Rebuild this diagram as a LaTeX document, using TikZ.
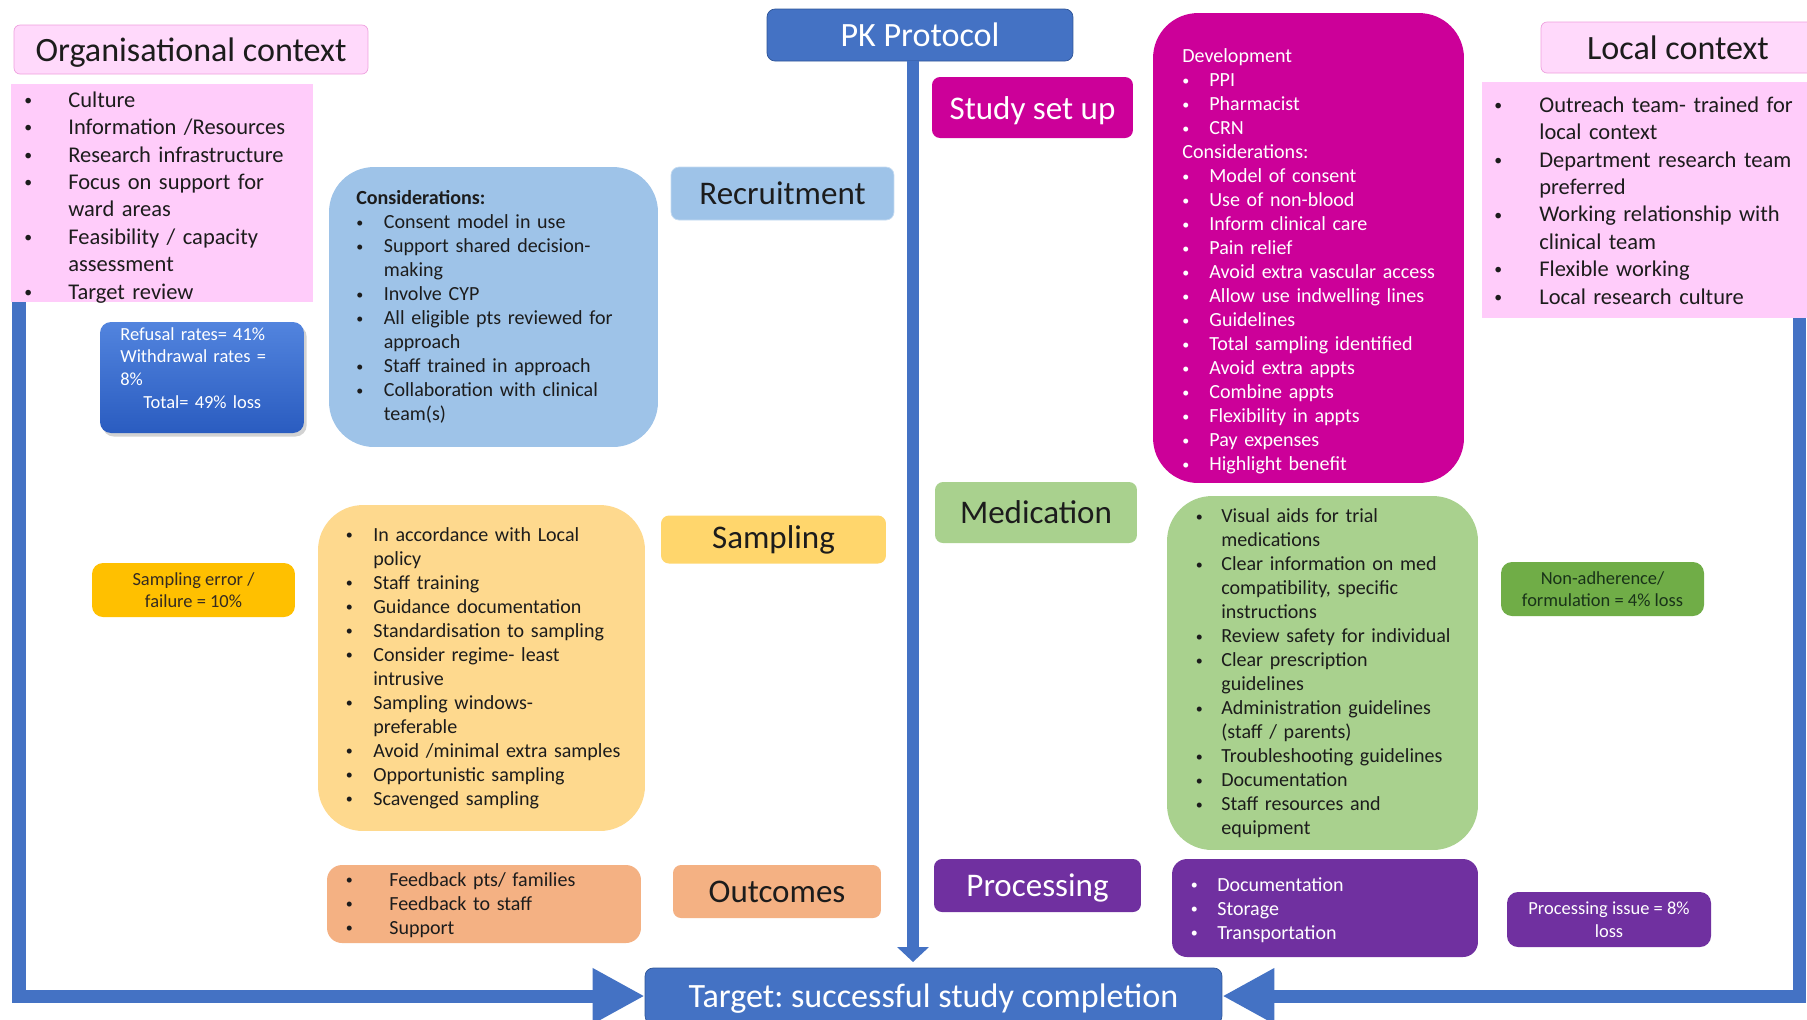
\documentclass[tikz,border=0pt]{standalone}
\usepackage{fontspec}
\setmainfont{Carlito}
\usetikzlibrary{arrows.meta,positioning,shadows}
\definecolor{pkBlue}{RGB}{68,114,196}
\definecolor{pkBorder}{RGB}{47,85,151}
\definecolor{ctxPink}{RGB}{255,204,250}
\definecolor{ctxBorder}{RGB}{238,160,222}
\definecolor{setupMagenta}{RGB}{204,0,153}
\definecolor{recBlue}{RGB}{158,195,232}
\definecolor{lossTop}{RGB}{82,132,222}
\definecolor{lossBottom}{RGB}{42,92,192}
\definecolor{sampLabel}{RGB}{255,214,108}
\definecolor{sampList}{RGB}{254,217,142}
\definecolor{sampGold}{RGB}{255,192,0}
\definecolor{outSalmon}{RGB}{244,177,131}
\definecolor{medGreen}{RGB}{169,209,142}
\definecolor{lossGreen}{RGB}{112,173,71}
\definecolor{procPurple}{RGB}{112,48,160}
\definecolor{inkDark}{RGB}{28,28,28}

\frenchspacing
\newlength{\pxu}\setlength{\pxu}{0.02cm}
\newlength{\bulind}
\newcommand{\fTitle}{\fontsize{19.4pt}{23pt}\selectfont}
\newcommand{\fLabel}{\fontsize{18.8pt}{22pt}\selectfont}
\newcommand{\fCtx}{\fontsize{12.8pt}{15.6pt}\selectfont}
\newcommand{\fList}{\fontsize{11.4pt}{13.66pt}\selectfont}
\newcommand{\fLoss}{\fontsize{10.5pt}{12.9pt}\selectfont}
\newcommand{\nl}{\hfil\break}
\newcommand{\smallbullet}{\raisebox{0.08em}{\scalebox{0.7}{\textbullet}}}
\newcommand{\itm}[1]{\par\hangindent=\bulind\hangafter=1\noindent\strut\makebox[\bulind][l]{\smallbullet}#1}
\newcommand{\plainline}[1]{\par\noindent\strut#1}
\newcommand{\lowered}[2]{\raisebox{-#1}[0.7em][0.2em]{#2}}

\begin{document}
\begin{tikzpicture}[x=0.02cm, y=-0.02cm,
    titlebox/.style={draw=ctxBorder, fill=ctxPink!75!white, rounded corners=0.12cm, inner sep=0pt, font=\fTitle, text=inkDark},
    ctxbox/.style={fill=ctxPink, inner sep=0pt},
    bluebox/.style={draw=pkBorder, fill=pkBlue, rounded corners=0.16cm, inner sep=0pt, font=\fTitle, text=white},
    labelbox/.style={rounded corners=0.16cm, inner sep=0pt, font=\fLabel, text=inkDark},
    listbox/.style={rounded corners=0.9cm, inner sep=0pt},
    lossbox/.style={rounded corners=0.22cm, inner sep=0pt, font=\fLoss, align=center},
    listtext/.style={anchor=north west, inner sep=0pt, text width=7cm, font=\fList, text=inkDark,
      execute at begin node={\raggedright\setlength{\bulind}{#1\pxu}\setlength{\parskip}{0pt}}},
    loopline/.style={line width=7.4pt, draw=pkBlue, -{Triangle[length=29.6pt,width=29.6pt]}},
    pkline/.style={line width=6.8pt, draw=pkBlue, -{Triangle[length=8.5pt,width=17.6pt]}}]
  \useasboundingbox (0,0) rectangle (1807,1019);
  \fill[white] (0,0) rectangle (1807,1019);

  % organisational context
  \node[titlebox, minimum width=7.08cm, minimum height=0.98cm] (orgtitle) at (191,49.5) {\lowered{2pt}{Organisational context}};
  \node[ctxbox, minimum width=6.04cm, minimum height=4.36cm] (orglist) at (162,193) {};
  \node[listtext=44, font=\fCtx] (orgtext) at (24,79.5) {%
    \itm{Culture}
    \itm{Information /Resources}
    \itm{Research infrastructure}
    \itm{Focus on support for\nl ward areas}
    \itm{Feasibility / capacity\nl assessment}
    \itm{Target review}\endgraf};

  % local context
  \node[titlebox, minimum width=5.48cm, minimum height=1.02cm] (loctitle) at (1678,47.5) {Local context};
  \node[ctxbox, minimum width=6.66cm, minimum height=4.72cm] (loclist) at (1648.5,200) {};
  \node[listtext=45, font=\fCtx] (loctext) at (1494,84.5) {%
    \itm{Outreach team- trained for\nl local context}
    \itm{Department research team\nl preferred}
    \itm{Working relationship with\nl clinical team}
    \itm{Flexible working}
    \itm{Local research culture}\endgraf};

  % protocol and target
  \node[bluebox, minimum width=6.12cm, minimum height=1.04cm] (pk) at (920,35) {PK Protocol};
  \node[bluebox, minimum width=11.54cm, minimum height=1.12cm] (target) at (933.5,996) {\lowered{1.8pt}{Target: successful study completion}};

  % study set up
  \node[labelbox, fill=setupMagenta, text=white, minimum width=4.02cm, minimum height=1.22cm] (setup) at (1032.5,107.5) {\lowered{2pt}{Study set up}};
  \node[listbox, fill=setupMagenta, minimum width=6.22cm, minimum height=9.4cm] (devbox) at (1308.5,248) {};
  \node[listtext=27, text=white] (devtext) at (1182,38.3) {%
    \plainline{Development}
    \itm{PPI}
    \itm{Pharmacist}
    \itm{CRN}
    \plainline{Considerations:}
    \itm{Model of consent}
    \itm{Use of non-blood}
    \itm{Inform clinical care}
    \itm{Pain relief}
    \itm{Avoid extra vascular access}
    \itm{Allow use indwelling lines}
    \itm{Guidelines}
    \itm{Total sampling identified}
    \itm{Avoid extra appts}
    \itm{Combine appts}
    \itm{Flexibility in appts}
    \itm{Pay expenses}
    \itm{Highlight benefit}\endgraf};

  % recruitment
  \node[labelbox, fill=recBlue, draw=recBlue!60!white, minimum width=4.46cm, minimum height=1.06cm] (reclabel) at (782.5,193.5) {Recruitment};
  \node[listbox, fill=recBlue, minimum width=6.58cm, minimum height=5.6cm] (reclist) at (493.5,307) {};
  \node[listtext=27.5] (rectext) at (356,180.3) {%
    \plainline{\textbf{Considerations:}}
    \itm{Consent model in use}
    \itm{Support shared decision-\nl making}
    \itm{Involve CYP}
    \itm{All eligible pts reviewed for\nl approach}
    \itm{Staff trained in approach}
    \itm{Collaboration with clinical\nl team(s)}\endgraf};
  \node[lossbox, top color=lossTop, bottom color=lossBottom, drop shadow={opacity=0.35, shadow xshift=1.5pt, shadow yshift=-2pt},
    minimum width=4.08cm, minimum height=2.22cm] (refusal) at (202,377.5) {};
  \node[anchor=north west, inner sep=0pt, text width=4cm, align=left, font=\fLoss, text=white] (refusaltext) at (120,324) {%
    \strut Refusal rates= 41\%\newline Withdrawal rates =\newline 8\%\newline\hspace*{23\pxu}Total= 49\% loss};

  % sampling
  \node[labelbox, fill=sampLabel, minimum width=4.5cm, minimum height=0.96cm] (samplabel) at (773.5,539.5) {Sampling};
  \node[listbox, fill=sampList, minimum width=6.54cm, minimum height=6.52cm] (samplist) at (481.5,668) {};
  \node[listtext=27.6] (samptext) at (345.4,516.8) {%
    \itm{In accordance with Local\nl policy}
    \itm{Staff training}
    \itm{Guidance documentation}
    \itm{Standardisation to sampling}
    \itm{Consider regime- least\nl intrusive}
    \itm{Sampling windows-\nl preferable}
    \itm{Avoid /minimal extra samples}
    \itm{Opportunistic sampling}
    \itm{Scavenged sampling}\endgraf};
  \node[lossbox, fill=sampGold, text=inkDark!85!brown, minimum width=4.06cm, minimum height=1.08cm] (samperr) at (193.5,590) {Sampling error /\\ failure = 10\%};

  % outcomes
  \node[listbox, rounded corners=0.3cm, fill=outSalmon, minimum width=6.28cm, minimum height=1.56cm] (outlist) at (484,904) {};
  \node[listtext=43.6] (outtext) at (345.4,861.8) {%
    \itm{Feedback pts/ families}
    \itm{Feedback to staff}
    \itm{Support}\endgraf};
  \node[labelbox, fill=outSalmon, minimum width=4.16cm, minimum height=1.06cm] (outlabel) at (777,891.5) {Outcomes};

  % medication
  \node[labelbox, fill=medGreen, minimum width=4.04cm, minimum height=1.22cm] (medlabel) at (1036,512.5) {Medication};
  \node[listbox, fill=medGreen, minimum width=6.22cm, minimum height=7.08cm] (medlist) at (1322.5,673) {};
  \node[listtext=25.6] (medtext) at (1195.4,498.3) {%
    \itm{Visual aids for trial\nl medications}
    \itm{Clear information on med\nl compatibility, specific\nl instructions}
    \itm{Review safety for individual}
    \itm{Clear prescription\nl guidelines}
    \itm{Administration guidelines\nl (staff / parents)}
    \itm{Troubleshooting guidelines}
    \itm{Documentation}
    \itm{Staff resources and\nl equipment}\endgraf};
  \node[lossbox, fill=lossGreen, text=inkDark!90!green, minimum width=4.06cm, minimum height=1.08cm] (nonadh) at (1602.5,589) {Non-adherence/\\ formulation = 4\% loss};

  % processing
  \node[labelbox, fill=procPurple, text=white, minimum width=4.14cm, minimum height=1.06cm] (proclabel) at (1037.5,885.5) {\lowered{1.5pt}{Processing}};
  \node[listbox, rounded corners=0.3cm, fill=procPurple, minimum width=6.12cm, minimum height=1.96cm] (proclist) at (1325,908) {};
  \node[listtext=26.6, text=white] (proctext) at (1190.4,866.8) {%
    \itm{Documentation}
    \itm{Storage}
    \itm{Transportation}\endgraf};
  \node[lossbox, fill=procPurple, text=white, minimum width=4.08cm, minimum height=1.1cm] (procissue) at (1609,919.5) {Processing issue = 8\%\\ loss};

  % connectors
  \coordinate (lstart) at (19,302);
  \coordinate (rstart) at (1799,318);
  \coordinate (pkend) at (913,962);
  \draw[loopline] (lstart) |- (target.west);
  \draw[loopline] (rstart) |- (target.east);
  \draw[pkline] (pk.south -| pkend) -- (pkend);
\end{tikzpicture}
\end{document}
